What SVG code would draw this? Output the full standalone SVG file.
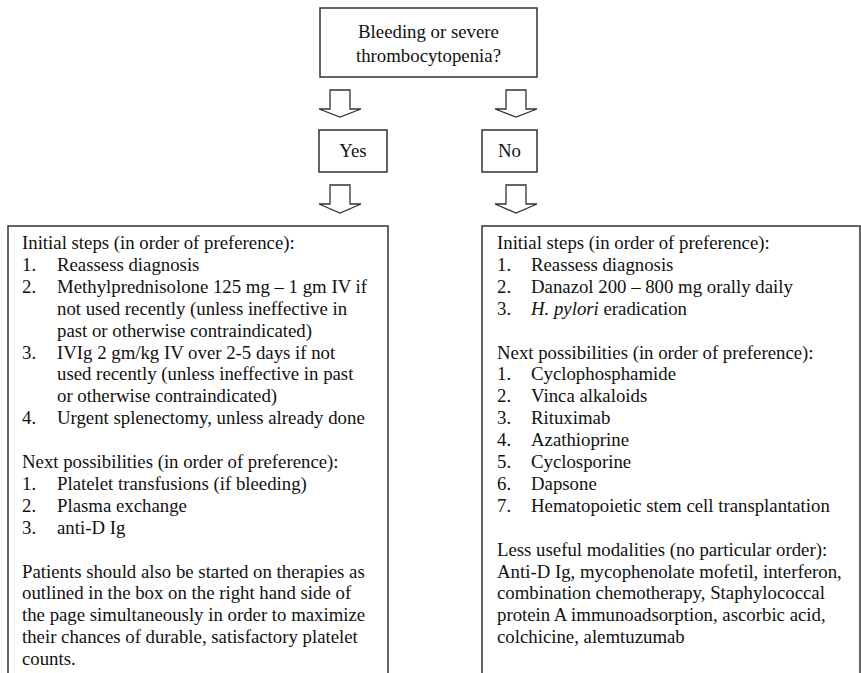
<svg xmlns="http://www.w3.org/2000/svg" width="861" height="673" viewBox="0 0 861 673">
<style>
.box{fill:#fff;stroke:#333;stroke-width:1.5}
.arr{fill:#fff;stroke:#333;stroke-width:1.3;stroke-linejoin:miter}
text{font-family:"Liberation Serif","Times New Roman",serif;font-size:18.8px;fill:#111}
.c{text-anchor:middle}
</style>
<rect width="861" height="673" fill="#fff"/>
<g id="connectors">
<path class="arr" d="M330,90 H350 V109 H361 L340,117 L319,109 H330 Z"/>
<path class="arr" d="M506,90 H526 V109 H537 L516,117 L495,109 H506 Z"/>
<path class="arr" d="M330,185 H350 V204 H361 L340,213 L319,204 H330 Z"/>
<path class="arr" d="M506,185 H526 V204 H537 L516,213 L495,204 H506 Z"/>
</g>
<g id="question">
<rect class="box" x="320" y="8" width="217" height="69"/>
<text class="c" x="428.5" y="38">Bleeding or severe</text>
<text class="c" x="428.5" y="62">thrombocytopenia?</text>
</g>
<g id="yes">
<rect class="box" x="319" y="130" width="68" height="42"/>
<text class="c" x="353" y="157">Yes</text>
</g>
<g id="no">
<rect class="box" x="482" y="130" width="55" height="42"/>
<text class="c" x="509.5" y="157">No</text>
</g>
<g id="yes-box">
<rect class="box" x="8" y="226" width="380" height="460"/>
<text x="22" y="249">Initial steps (in order of preference):</text>
<text x="22" y="270.9">1.</text><text x="57" y="270.9">Reassess diagnosis</text>
<text x="22" y="292.8">2.</text><text x="57" y="292.8">Methylprednisolone 125 mg – 1 gm IV if</text>
<text x="57" y="314.7">not used recently (unless ineffective in</text>
<text x="57" y="336.6">past or otherwise contraindicated)</text>
<text x="22" y="358.5">3.</text><text x="57" y="358.5">IVIg 2 gm/kg IV over 2-5 days if not</text>
<text x="57" y="380.4">used recently (unless ineffective in past</text>
<text x="57" y="402.3">or otherwise contraindicated)</text>
<text x="22" y="424.2">4.</text><text x="57" y="424.2">Urgent splenectomy, unless already done</text>
<text x="22" y="468">Next possibilities (in order of preference):</text>
<text x="22" y="489.9">1.</text><text x="57" y="489.9">Platelet transfusions (if bleeding)</text>
<text x="22" y="511.8">2.</text><text x="57" y="511.8">Plasma exchange</text>
<text x="22" y="533.7">3.</text><text x="57" y="533.7">anti-D Ig</text>
<text x="22" y="577.5">Patients should also be started on therapies as</text>
<text x="22" y="599.4">outlined in the box on the right hand side of</text>
<text x="22" y="621.3">the page simultaneously in order to maximize</text>
<text x="22" y="643.2">their chances of durable, satisfactory platelet</text>
<text x="22" y="665.1">counts.</text>
</g>
<g id="no-box">
<rect class="box" x="482" y="226" width="378" height="460"/>
<text x="497" y="249">Initial steps (in order of preference):</text>
<text x="497" y="270.9">1.</text><text x="531" y="270.9">Reassess diagnosis</text>
<text x="497" y="292.8">2.</text><text x="531" y="292.8">Danazol 200 – 800 mg orally daily</text>
<text x="497" y="314.7">3.</text><text x="531" y="314.7"><tspan font-style="italic">H. pylori</tspan> eradication</text>
<text x="497" y="358.5">Next possibilities (in order of preference):</text>
<text x="497" y="380.4">1.</text><text x="531" y="380.4">Cyclophosphamide</text>
<text x="497" y="402.3">2.</text><text x="531" y="402.3">Vinca alkaloids</text>
<text x="497" y="424.2">3.</text><text x="531" y="424.2">Rituximab</text>
<text x="497" y="446.1">4.</text><text x="531" y="446.1">Azathioprine</text>
<text x="497" y="468">5.</text><text x="531" y="468">Cyclosporine</text>
<text x="497" y="489.9">6.</text><text x="531" y="489.9">Dapsone</text>
<text x="497" y="511.8">7.</text><text x="531" y="511.8">Hematopoietic stem cell transplantation</text>
<text x="497" y="555.6">Less useful modalities (no particular order):</text>
<text x="497" y="577.5">Anti-D Ig, mycophenolate mofetil, interferon,</text>
<text x="497" y="599.4">combination chemotherapy, Staphylococcal</text>
<text x="497" y="621.3">protein A immunoadsorption, ascorbic acid,</text>
<text x="497" y="643.2">colchicine, alemtuzumab</text>
</g>
</svg>
